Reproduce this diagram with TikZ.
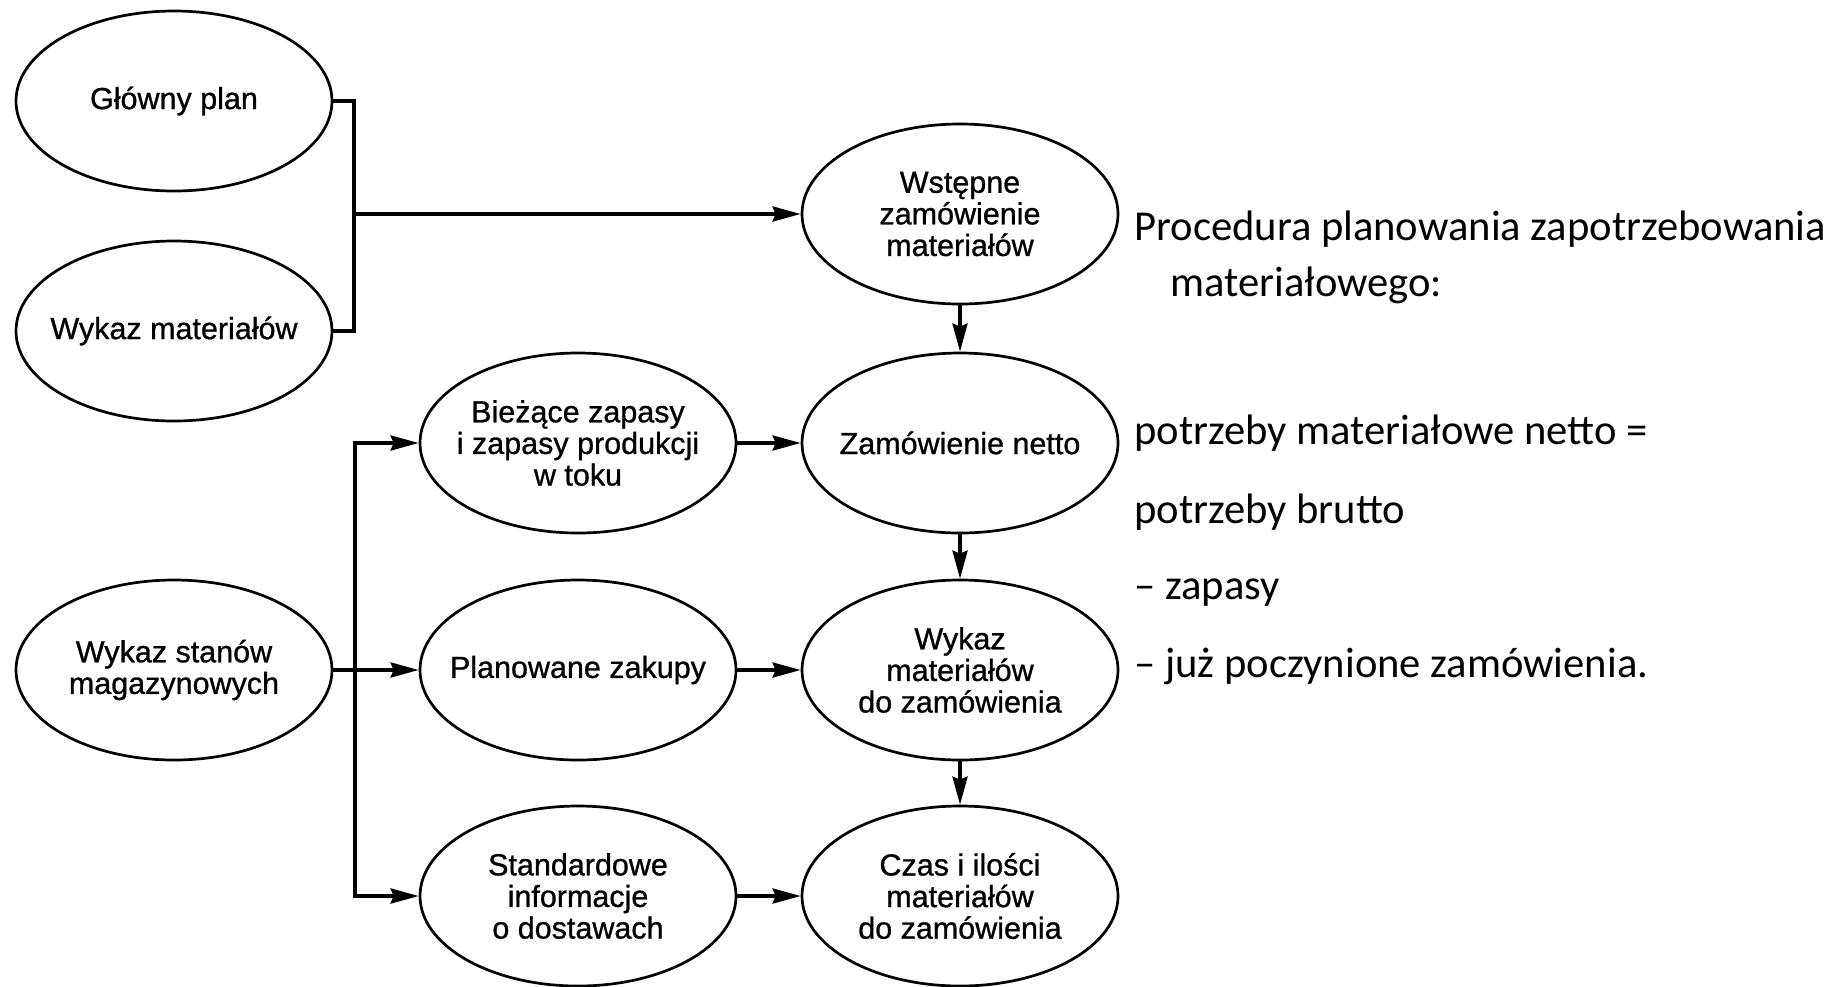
\documentclass[tikz,border=0pt]{standalone}
\usepackage{fontspec}
\usetikzlibrary{shapes.geometric,arrows.meta}
\newfontfamily\diagfont[FakeBold=0.9]{Liberation Sans}
\newfontfamily\notefont{Carlito}
\begin{document}
\begin{tikzpicture}[x=0.5pt,y=-0.5pt,
  blob/.style={ellipse,draw,line width=1.35pt,minimum width=158pt,minimum height=90pt,
    inner ysep=0pt,inner xsep=-50pt,align=center,font=\diagfont\fontsize{15.25}{15.8}\selectfont},
  link/.style={line width=1.7pt},
  flow/.style={link,-{Stealth[length=14pt,width=7.5pt,inset=1.5pt]}},
  note/.style={anchor=base west,inner sep=0pt,font=\notefont\fontsize{21.3}{25}\selectfont}]
\useasboundingbox (0,0) rectangle (1834,986);

% left column: inputs
\node[blob] (plan)  at (174,101) {Główny plan};
\node[blob] (bom)   at (174,331) {Wykaz materiałów};
\node[blob] (stock) at (174,670) {Wykaz stanów\\magazynowych};

% middle column
\node[blob] (cur) at (578,443) {Bieżące zapasy\\i zapasy produkcji\\w toku};
\node[blob] (buy) at (578,670) {Planowane zakupy};
\node[blob] (std) at (578,896) {Standardowe\\informacje\\o dostawach};

% right column: processing chain
\node[blob] (pre)  at (960,214) {Wstępne\\zamówienie\\materiałów};
\node[blob] (net)  at (960,443) {Zamówienie netto};
\node[blob] (list) at (960,670) {Wykaz\\materiałów\\do zamówienia};
\node[blob] (time) at (960,896) {Czas i ilości\\materiałów\\do zamówienia};

% junctions
\coordinate (j1) at (354,214);
\coordinate (j2) at (355,670);

% plan + bill of materials merge into the preliminary order
\draw[link] (plan.east) -| (j1) |- (bom.east);
\draw[flow] (j1) -- (pre.west);

% stock list fans out to the middle column
\draw[link] (stock.east) -- (j2);
\draw[flow] (j2) |- (cur.west);
\draw[flow] (j2) -- (buy.west);
\draw[flow] (j2) |- (std.west);

% middle column feeds the chain
\draw[flow] (cur.east) -- (net.west);
\draw[flow] (buy.east) -- (list.west);
\draw[flow] (std.east) -- (time.west);

% chain downwards
\draw[flow] (pre.south) -- (net.north);
\draw[flow] (net.south) -- (list.north);
\draw[flow] (list.south) -- (time.north);

% explanatory notes
\node[note] (n1) at (1134,240) {Procedura planowania zapotrzebowania};
\node[note] (n2) at (1170,296) {materiałowego:};
\node[note] (n3) at (1134,444) {potrzeby materiałowe netto =};
\node[note] (n4) at (1134,523) {potrzeby brutto};
\node[note] (n5) at (1134,599) {– zapasy};
\node[note] (n6) at (1134,677) {– już poczynione zamówienia.};
\end{tikzpicture}
\end{document}
